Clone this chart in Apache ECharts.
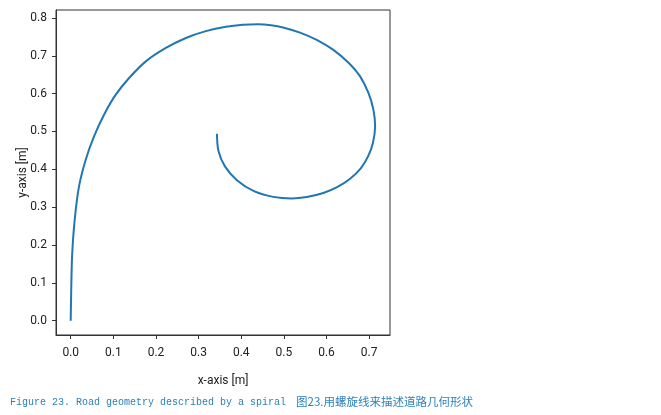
<!DOCTYPE html>
<html>
<head>
<meta charset="utf-8">
<script src="https://cdn.jsdelivr.net/npm/echarts@6/dist/echarts.min.js"></script>
<style>
html,body{margin:0;padding:0;background:#fff;}
#c{width:661px;height:415px;}
</style>
</head>
<body>
<div id="c"></div>
<script>
// Spiral points (metres)
var xs = [0.0000,0.0012,0.0033,0.0094,0.0195,0.0352,0.0547,0.0782,0.1057,0.1370,0.1762,0.2232,0.2702,0.3171,0.3641,0.4041,0.4393,0.4699,0.5004,0.5379,0.5771,0.6161,0.6530,0.6789,0.6984,0.7101,0.7141,0.7090,0.6981,0.6805,0.6554,0.6248,0.5927,0.5537,0.5184,0.4752,0.4299,0.3899,0.3618,0.3465,0.3430];
var ys = [0.0000,0.0819,0.1718,0.2669,0.3549,0.4255,0.4871,0.5444,0.5973,0.6414,0.6853,0.7207,0.7471,0.7651,0.7765,0.7818,0.7833,0.7809,0.7743,0.7611,0.7421,0.7156,0.6805,0.6456,0.6017,0.5576,0.5135,0.4704,0.4355,0.4027,0.3753,0.3528,0.3375,0.3269,0.3232,0.3272,0.3422,0.3713,0.4078,0.4493,0.4942];
var xTicks = [0,0.1,0.2,0.3,0.4,0.5,0.6,0.7];
var yTicks = [0,0.1,0.2,0.3,0.4,0.5,0.6,0.7,0.8];
var xName = 'x-axis [m]';
var yName = 'y-axis [m]';
var captionEn = 'Figure 23. Road geometry described by a spiral';
var captionZh = '图23.用螺旋线来描述道路几何形状';

var pts = xs.map(function(x,i){return [x, ys[i]];});
var tickFont = {fontFamily:'Roboto,"Liberation Sans",sans-serif', fontSize:12, color:'#222'};

var chart = echarts.init(document.getElementById('c'), null, {renderer:'canvas'});
chart.setOption({
  animation:false,
  backgroundColor:'#fff',
  grid:{left:56, top:10, right:271, bottom:80, show:true, borderColor:'#333', borderWidth:1, backgroundColor:'#fff'},
  xAxis:{
    type:'value', min:-0.0345, max:0.749,
    name:xName, nameLocation:'middle', nameGap:40, nameMoveOverlap:false,
    nameTextStyle:tickFont,
    axisLine:{show:true, onZero:false, lineStyle:{color:'#333'}},
    splitLine:{show:false},
    axisTick:{show:true, length:4, customValues:xTicks, lineStyle:{color:'#333'}},
    axisLabel:Object.assign({margin:12, customValues:xTicks, formatter:function(v){return v.toFixed(1);}}, tickFont)
  },
  yAxis:{
    type:'value', min:-0.0378, max:0.821,
    name:yName, nameLocation:'middle', nameGap:27, nameMoveOverlap:false,
    nameTextStyle:tickFont,
    axisLine:{show:true, onZero:false, lineStyle:{color:'#333'}},
    splitLine:{show:false},
    axisTick:{show:true, length:4, customValues:yTicks, lineStyle:{color:'#333'}},
    axisLabel:Object.assign({margin:9, customValues:yTicks, formatter:function(v){return v.toFixed(1);}}, tickFont)
  },
  series:[{
    type:'line', data:pts, smooth:0.3, showSymbol:false,
    lineStyle:{color:'#1f77b4', width:2}
  }],
  graphic:[
    {type:'text', left:10, top:397, style:{text:captionEn, fill:'#2b80b9', font:'10px "Liberation Mono","DejaVu Sans Mono",monospace'}},
    {type:'text', left:296, top:396, style:{text:captionZh, fill:'#2b80b9', font:'11.5px "Noto Sans CJK SC",sans-serif'}}
  ]
});
</script>
</body>
</html>
